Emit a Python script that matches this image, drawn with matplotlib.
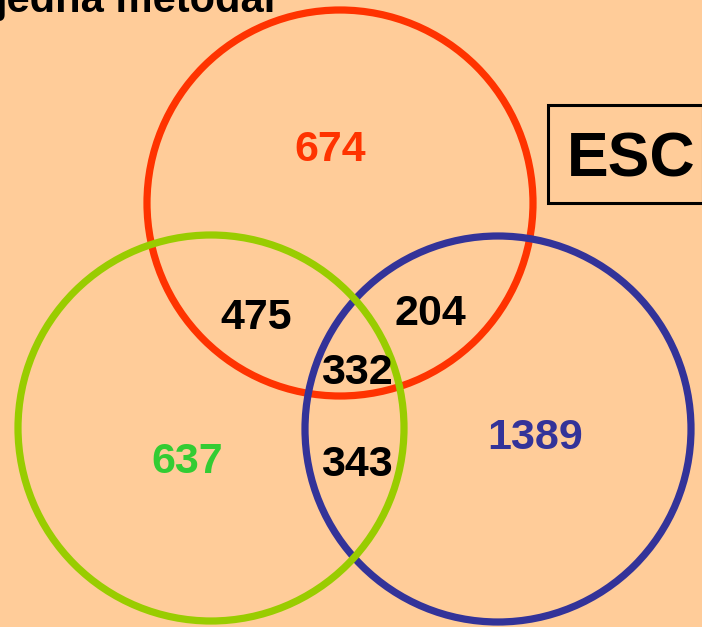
import matplotlib
matplotlib.use("Agg")
import matplotlib.pyplot as plt
from matplotlib.patches import Circle, Rectangle

plt.rcParams["font.family"] = ["Liberation Sans", "DejaVu Sans"]

# Venn counts
sets = ["red", "green", "blue"]
only_counts = [674, 637, 1389]
pair_labels = ["red&green", "red&blue", "green&blue"]
pair_counts = [475, 204, 343]
triple_count = 332
panel_label = "ESC"
title_text = "jedna metodar"

BG = "#FFCC99"
ring_colors = {"red": "#FF3300", "green": "#99CC00", "blue": "#333399"}
text_colors = {"red": "#FF3300", "green": "#33CC33", "blue": "#333399"}

# geometry in pixel units (y goes down)
centers = {"red": (340, 203), "green": (211, 428), "blue": (498, 429)}
radius = 193
zorders = {"red": 1, "blue": 2, "green": 3}
only_pos = {"red": (330, 150), "green": (187, 462), "blue": (535, 438)}
pair_pos = {"red&green": (256, 318), "red&blue": (430, 314), "green&blue": (357, 465)}
triple_pos = (357, 373)

fig = plt.figure(figsize=(7.02, 6.27), dpi=100, facecolor=BG)
ax = fig.add_axes([0, 0, 1, 1])
ax.set_facecolor(BG)
ax.set_xlim(0, 702)
ax.set_ylim(627, 0)
ax.axis("off")

for s in sets:
    ax.add_patch(Circle(centers[s], radius, fill=False, ec=ring_colors[s],
                        lw=5.2, zorder=zorders[s]))

num_kw = dict(fontsize=31, fontweight="bold", ha="center", va="center", zorder=5)
for s, c in zip(sets, only_counts):
    ax.text(*only_pos[s], str(c), color=text_colors[s], **num_kw)
for p, c in zip(pair_labels, pair_counts):
    ax.text(*pair_pos[p], str(c), color="black", **num_kw)
ax.text(*triple_pos, str(triple_count), color="black", **num_kw)

# ESC box
ax.add_patch(Rectangle((548, 105), 155, 98, fill=False, ec="black", lw=2.2,
                       zorder=4, clip_on=False))
ax.text(631, 160, panel_label, fontsize=45, fontweight="bold", ha="center",
        va="center", color="black", zorder=5)

# title, mostly cut off at the top
ax.text(-4, 12, title_text, fontsize=30, fontweight="bold", ha="left",
        va="baseline", color="black")

fig.savefig("out.png", dpi=100, facecolor=BG)
